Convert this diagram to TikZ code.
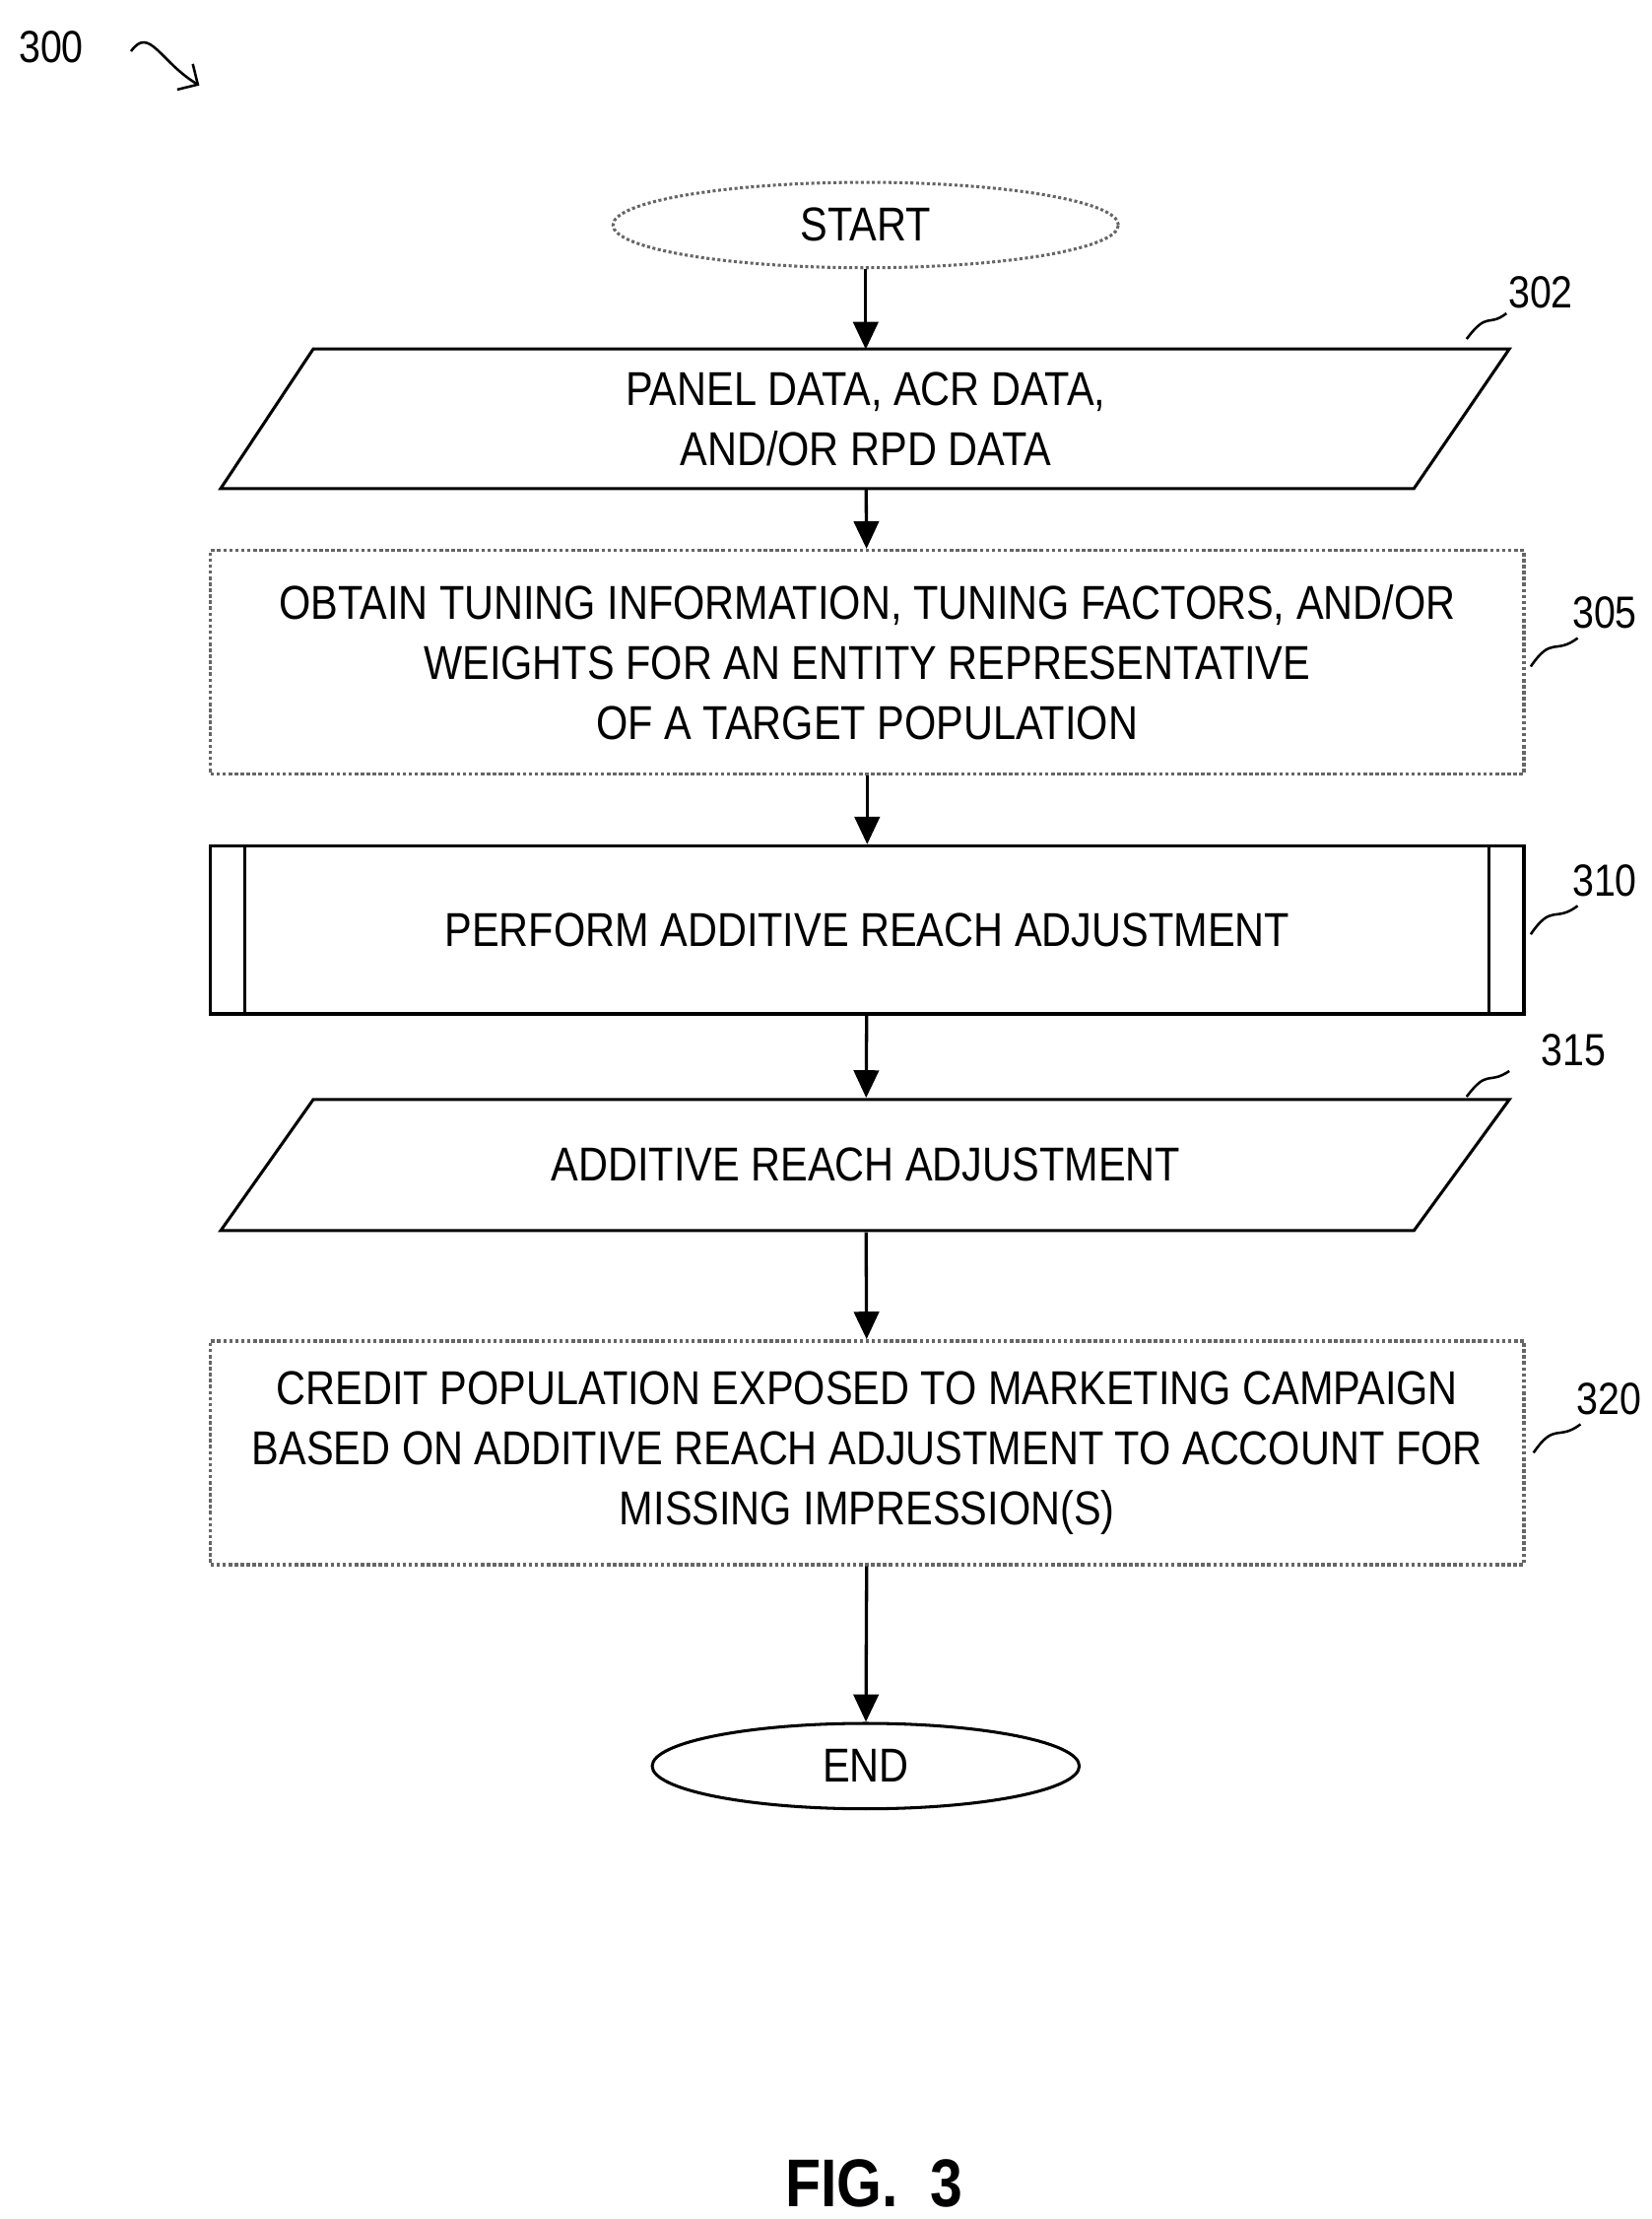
\documentclass[tikz,border=0pt]{standalone}
\usepackage{fontspec}
\setmainfont{Liberation Sans}[FakeStretch=0.86]
\usetikzlibrary{shapes.geometric,arrows.meta,positioning}
\begin{document}
\begin{tikzpicture}[x=0.02cm,y=-0.02cm]
\tikzset{edge/.style = {-{Triangle[length=11pt,width=10pt]}, line width=1.3pt}}
\tikzset{box/.style = {draw=black!60, densely dotted, line width=1.4pt, minimum width=18.45cm, align=center, font=\fontsize{19}{24}\selectfont}}
\tikzset{term/.style = {shape=ellipse, draw, line width=1.2pt, font=\fontsize{19}{20}\selectfont}}
\tikzset{io/.style = {line width=1.2pt}}
\tikzset{ref/.style = {font=\fontsize{18}{20}\selectfont}}
\tikzset{squig/.style = {line width=1pt}}
\useasboundingbox (0,0) rectangle (1160,1558);
% label 300
\node[ref] (l300) at (36,33) {300};
\draw[squig,-{Straight Barb[length=6pt]}] (92,36) .. controls (105,18) and (112,43) .. (140,60);
% start
\node[term, draw=black!60, densely dotted, minimum width=7.1cm, minimum height=1.2cm] (start) at (608,158) {START};
% 302
\coordinate (p302) at (608,294);
\draw[io] (220,245) -- (1060,245) -- (993,343) -- (155,343) -- cycle;
\node[box, draw=none, minimum height=1.9cm] (n302) at (p302) {PANEL DATA, ACR DATA,\\AND/OR RPD DATA};
\node[ref] (l302) at (1082,205) {302};
\draw[squig] (1030,238) .. controls (1045,218) and (1045,230) .. (1058,220);
% 305
\node[box, minimum height=3.14cm] (n305) at (609,465) {OBTAIN TUNING INFORMATION, TUNING FACTORS, AND/OR\\WEIGHTS FOR AN ENTITY REPRESENTATIVE\\OF A TARGET POPULATION};
\node[ref] (l305) at (1127,430) {305};
\draw[squig] (1075,468) .. controls (1090,446) and (1092,460) .. (1108,448);
% 310
\node[box, draw=black, solid, line width=1.4pt, minimum height=2.36cm] (n310) at (609,653) {PERFORM ADDITIVE REACH ADJUSTMENT};
\draw[line width=1.2pt] (172,594) -- (172,712) (1046,594) -- (1046,712);
\node[ref] (l310) at (1127,618) {310};
\draw[squig] (1075,656) .. controls (1090,634) and (1092,648) .. (1108,636);
% 315
\coordinate (p315) at (608,818);
\draw[io] (220,772) -- (1060,772) -- (993,864) -- (155,864) -- cycle;
\node[box, draw=none, minimum height=1.84cm] (n315) at (p315) {ADDITIVE REACH ADJUSTMENT};
\node[ref] (l315) at (1105,737) {315};
\draw[squig] (1030,770) .. controls (1045,750) and (1045,762) .. (1060,752);
% 320
\node[box, minimum height=3.14cm] (n320) at (609,1020) {CREDIT POPULATION EXPOSED TO MARKETING CAMPAIGN\\BASED ON ADDITIVE REACH ADJUSTMENT TO ACCOUNT FOR\\MISSING IMPRESSION(S)};
\node[ref] (l320) at (1130,982) {320};
\draw[squig] (1077,1020) .. controls (1092,998) and (1094,1012) .. (1110,1000);
% end
\node[term, minimum width=6cm, minimum height=1.2cm] (end) at (608,1240) {END};
% arrows
\draw[edge] (start) -- (n302);
\draw[edge] (n302) -- (n305);
\draw[edge] (n305) -- (n310);
\draw[edge] (n310) -- (n315);
\draw[edge] (n315) -- (n320);
\draw[edge] (n320) -- (end);
% caption
\node[font=\bfseries\fontsize{27}{30}\selectfont] (fig) at (614,1533) {FIG.\ \ 3};
\end{tikzpicture}
\end{document}
